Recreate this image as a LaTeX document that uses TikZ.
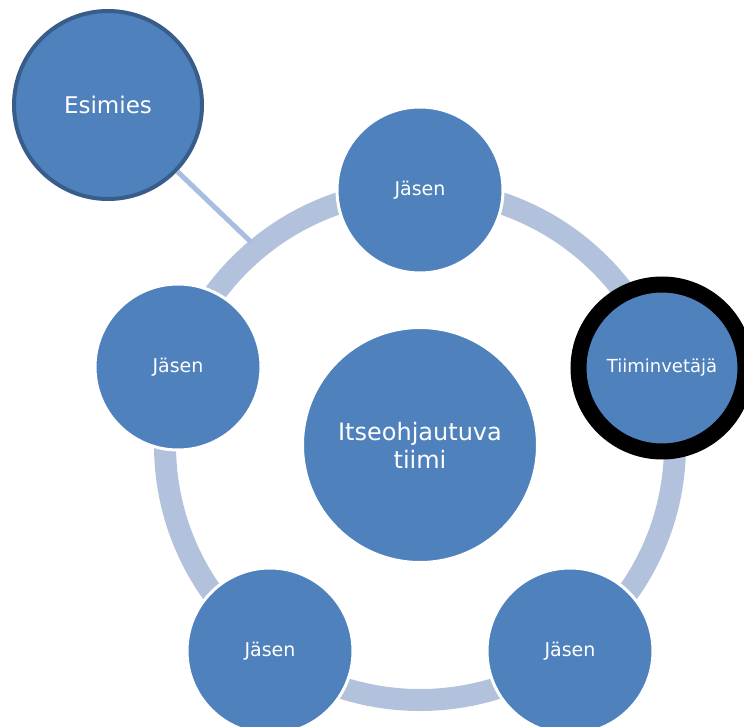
\documentclass[tikz,border=0pt]{standalone}
\usepackage{fontspec}
\setmainfont{DejaVu Sans}
\usetikzlibrary{positioning}
\definecolor{nodeblue}{RGB}{79,129,189}
\definecolor{ringblue}{RGB}{179,194,220}
\definecolor{linkblue}{RGB}{167,190,224}
\definecolor{bossedge}{RGB}{56,93,138}

\begin{document}
\begin{tikzpicture}[x=0.5pt,y=-0.5pt]
\tikzstyle{every node}+=[inner sep=0pt, text=white]
\tikzstyle{member}=[circle, fill=nodeblue, draw=white, line width=1.5pt, minimum size=83pt, font=\fontsize{9.5}{11}\selectfont]
\tikzstyle{leader}=[circle, fill=nodeblue, draw=black, line width=8pt, minimum size=83.5pt, font=\fontsize{9}{11}\selectfont]
\tikzstyle{boss}=[circle, fill=nodeblue, draw=bossedge, line width=2pt, minimum size=94pt, font=\fontsize{11.5}{14}\selectfont]
\tikzstyle{team}=[circle, fill=nodeblue, draw=white, line width=1pt, minimum size=117pt, align=center, font=\fontsize{12}{14}\selectfont]
\useasboundingbox (0,0) rectangle (744,727);
\clip (0,0) rectangle (744,727);
% ring under the members
\coordinate (hub) at (420,445);
\draw [ringblue, line width=11pt] (hub) circle (255);
\node [team] (team) at (hub) {Itseohjautuva\\tiimi};
% members on the ring
\node [member] (top) at (420,190) {Jäsen};
\node [member] (left) at (178,367) {Jäsen};
\node [leader] (lead) at (662,368) {Tiiminvetäjä};
\node [member] (botleft) at (270,651) {Jäsen};
\node [member] (botright) at (570,651) {Jäsen};
% supervisor
\node [boss] (boss) at (108,105) {Esimies};
\coordinate (ringtouch) at (252,243);
\draw [linkblue, line width=2.5pt] (boss) -- (ringtouch);
\end{tikzpicture}
\end{document}
